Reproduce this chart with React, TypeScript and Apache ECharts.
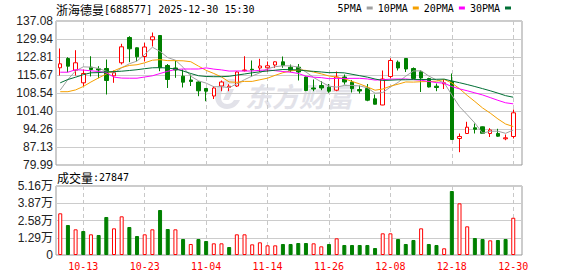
import React, { useEffect, useRef } from 'react';
import * as echarts from 'echarts';

// ---------- data ----------
const stockName = '浙海德曼';
const stockCode = '[688577]';
const quoteTime = '2025-12-30 15:30';
const volumeLabel = '成交量';
const lastVolume = 27847;

const dates = [
  '09-30', '10-09', '10-10', '10-13', '10-14', '10-15', '10-16', '10-17', '10-20', '10-21',
  '10-22', '10-23', '10-24', '10-27', '10-28', '10-29', '10-30', '10-31', '11-03', '11-04',
  '11-05', '11-06', '11-07', '11-10', '11-11', '11-12', '11-13', '11-14', '11-17', '11-18',
  '11-19', '11-20', '11-21', '11-24', '11-25', '11-26', '11-27', '11-28', '12-01', '12-02',
  '12-03', '12-04', '12-05', '12-08', '12-09', '12-10', '12-11', '12-12', '12-15', '12-16',
  '12-17', '12-18', '12-19', '12-22', '12-23', '12-24', '12-25', '12-26', '12-29', '12-30',
];

const opens = [
  118.53, 122.21, 117.57, 112.58, 118.76, 118.13, 118.25, 115.35, 120.51, 130.54,
  126.46, 123.0, 129.63, 131.33, 119.44, 118.45, 115.2, 113.69, 112.9, 110.32,
  107.35, 111.31, 110.72, 111.31, 117.4, 117.95, 118.45, 118.53, 119.64, 120.9,
  118.76, 118.76, 114.88, 110.52, 111.51, 110.84, 109.65, 114.88, 112.82, 109.92,
  110.32, 106.24, 103.78, 115.08, 120.75, 122.21, 118.25, 116.94, 114.28, 111.23,
  112.18, 113.21, 90.5, 92.48, 94.74, 95.13, 92.48, 92.48, 90.38, 91.29,
];
const closes = [
  120.11, 119.16, 120.51, 116.27, 117.85, 117.65, 113.49, 116.66, 126.85, 126.06,
  122.89, 126.77, 130.82, 118.53, 113.89, 117.65, 112.82, 113.09, 109.41, 109.25,
  110.52, 112.9, 111.23, 116.86, 117.65, 117.7, 119.24, 119.32, 120.9, 119.44,
  117.57, 116.86, 109.53, 110.12, 110.52, 109.25, 114.88, 112.9, 110.24, 109.33,
  105.68, 104.09, 114.09, 121.42, 118.45, 118.05, 114.3, 114.5, 110.92, 110.72,
  112.58, 90.1, 91.3, 94.98, 94.14, 92.56, 93.87, 91.41, 90.77, 100.68,
];
const lows = [
  115.47, 116.78, 115.47, 111.23, 115.08, 114.4, 107.94, 112.58, 119.83, 120.75,
  121.14, 121.02, 126.97, 117.18, 110.52, 114.56, 110.72, 111.31, 107.27, 105.28,
  106.16, 109.25, 109.25, 110.92, 117.06, 115.08, 116.86, 117.06, 118.45, 118.53,
  116.78, 113.49, 109.25, 109.25, 109.65, 108.61, 109.25, 111.91, 108.73, 108.34,
  105.28, 103.97, 103.7, 114.4, 117.46, 116.86, 114.1, 108.93, 110.72, 109.25,
  110.12, 90.1, 85.06, 92.36, 92.48, 92.36, 91.09, 91.17, 89.82, 90.5,
];
const highs = [
  126.18, 122.73, 125.5, 117.85, 123.12, 119.16, 121.81, 117.46, 128.04, 131.05,
  126.6, 128.44, 132.52, 131.45, 120.03, 121.42, 117.85, 115.87, 113.21, 110.52,
  111.23, 113.49, 112.02, 117.18, 123.12, 121.42, 122.09, 121.02, 121.1, 123.0,
  119.83, 120.03, 115.08, 113.89, 113.21, 112.1, 117.06, 115.87, 113.69, 111.51,
  112.1, 107.94, 117.46, 122.33, 121.42, 122.33, 118.68, 117.57, 114.56, 112.3,
  113.89, 116.27, 92.48, 97.12, 96.44, 95.25, 94.58, 94.34, 92.08, 101.99,
];
const volumes = [
  31180, 22430, 19200, 17950, 15460, 14960, 28420, 19940, 28920, 20940,
  14210, 15460, 19200, 33650, 19440, 19200, 11970, 8230, 11970, 10470,
  8730, 8730, 5980, 15460, 15460, 7980, 9480, 7230, 7230, 8230,
  8230, 8970, 8970, 8730, 6480, 8230, 12470, 7480, 7480, 7480,
  7480, 5230, 16210, 16210, 11970, 8230, 11220, 19940, 8230, 7480,
  5010, 47860, 38640, 21440, 12710, 11970, 10970, 11220, 11970, 27847,
];

// moving-average values before enough visible closes exist
const ma5Head = [109.7, 113.9, 117.3, 118.9];
const ma10Head = [109.05, 109.05, 109.76, 111.11, 112.9, 114.52, 116.07, 117.34, 118.64];
const ma20Head = [
  116.78, 116.78, 117.77, 117.61, 117.34, 117.06, 116.58, 114.84, 114.44, 114.4,
  114.4, 114.88, 115.35, 116.27, 117.14, 117.85, 118.05, 118.05, 118.05,
];
const ma30Head = [
  112.58, 113.89, 114.8, 115.79, 116.54, 116.62, 116.94, 117.02, 117.18, 117.46,
  117.77, 118.17, 118.53, 118.6, 118.41, 118.05, 117.26, 116.27, 115.39, 115.08,
  115.0, 115.0, 115.16, 115.63, 116.07, 116.54, 116.94, 117.26, 117.57,
];

const priceTicks = ['79.99', '87.13', '94.26', '101.40', '108.54', '115.67', '122.81', '129.94', '137.08'];
const volTicks = ['0', '1.29万', '2.58万', '3.87万', '5.16万'];
const priceMin = 79.99;
const priceMax = 137.08;
const volMax = 51600;

const maNames = ['5PMA', '10PMA', '20PMA', '30PMA'];
const maPeriods = [5, 10, 20, 30];
const maHeads = [ma5Head, ma10Head, ma20Head, ma30Head];
const maColors = ['#a0a0a0', '#f5a000', '#ff00ff', '#006f35'];

// ---------- helpers ----------
function movingAverage(n: number, head: number[]): number[] {
  return closes.map((_, i) => {
    if (i < n - 1) return head[i];
    let s = 0;
    for (let k = i - n + 1; k <= i; k++) s += closes[k];
    return +(s / n).toFixed(3);
  });
}

const labelEvery = (i: number) => i >= 3 && (i - 3) % 8 === 0;

const UP = '#ff0000';
const DOWN = '#008000';
const MONO = 'DejaVu Sans Mono';
const CJK = 'Noto Sans CJK SC';

echarts.graphic.registerShape(
  'emLogo',
  echarts.graphic.extendPath(
    'M17 0 C8 0 1 8 1 17 C1 25 6 30 13 30 C19 30 24 26 26 21 L20 21 C18 24 16 25 13 25 C9 25 7 22 7 18 C7 11 11 5 17 5 C20 5 22 6 23 8 L28 4 C26 1 22 0 17 0 Z M14 10 L20 10 L15 21 L9 21 Z',
    {}
  )
);

export default function App() {
  const ref = useRef<HTMLDivElement>(null);

  useEffect(() => {
    if (!ref.current) return;
    const chart = echarts.init(ref.current, undefined, { renderer: 'svg' });

    const candleData = opens.map((o, i) => [o, closes[i], lows[i], highs[i]]);
    const volData = volumes.map((v, i) => {
      const up = i === 0 ? closes[0] >= opens[0] : closes[i] >= closes[i - 1];
      return {
        value: v,
        itemStyle: up
          ? { color: '#ffffff', borderColor: UP, borderWidth: 1 }
          : { color: DOWN, borderColor: DOWN, borderWidth: 1 },
      };
    });

    const frameYAxis = (gridIndex: number, max: number, labels: string[]) => ({
      type: 'value',
      gridIndex,
      min: 0,
      max,
      interval: 1,
      axisLine: { show: false },
      axisTick: { show: false },
      axisLabel: {
        formatter: (v: number) => labels[Math.round(v)] ?? '',
        fontFamily: 'Liberation Sans, Arial, ' + CJK,
        fontSize: 12,
        color: '#222',
        margin: 3,
      },
      splitLine: { show: true, lineStyle: { color: '#cccccc', width: 1 } },
    });

    const dataXAxis = (gridIndex: number, showLabels: boolean) => ({
      type: 'category',
      gridIndex,
      data: dates,
      boundaryGap: true,
      axisLine: { show: false },
      axisTick: { show: false, alignWithLabel: true, interval: labelEvery },
      axisLabel: {
        show: showLabels,
        interval: labelEvery,
        color: UP,
        fontFamily: MONO,
        fontSize: 10,
        margin: 6,
      },
      splitLine: {
        show: true,
        interval: labelEvery,
        alignWithLabel: true,
        lineStyle: { color: '#c8c8c8', width: 1, type: [4, 3] },
      },
    });

    const option: any = {
      animation: false,
      backgroundColor: '#ffffff',
      legend: {
        data: maNames,
        right: 67,
        top: 3,
        padding: 0,
        itemWidth: 6,
        itemHeight: 3,
        itemGap: 5,
        align: 'right',
        icon: 'rect',
        selectedMode: false,
        lineStyle: { width: 3 },
        textStyle: { fontFamily: MONO, fontSize: 10, color: '#000' },
      },
      grid: [
        { left: 56, top: 21, width: 466, height: 144, show: true, borderColor: '#999', borderWidth: 1, backgroundColor: 'transparent', outerBoundsMode: 'none', containLabel: false },
        { left: 56.4, top: 21, width: 460.7, height: 144, outerBoundsMode: 'none', containLabel: false },
        { left: 56, top: 186, width: 466, height: 69, show: true, borderColor: '#999', borderWidth: 1, backgroundColor: 'transparent', outerBoundsMode: 'none', containLabel: false },
        { left: 56.4, top: 186, width: 460.7, height: 69, outerBoundsMode: 'none', containLabel: false },
      ],
      xAxis: [
        { type: 'value', gridIndex: 0, min: 0, max: 1, show: false },
        dataXAxis(1, false),
        { type: 'value', gridIndex: 2, min: 0, max: 1, show: false },
        dataXAxis(3, true),
      ],
      yAxis: [
        frameYAxis(0, 8, priceTicks),
        { type: 'value', gridIndex: 1, min: priceMin, max: priceMax, show: false, splitLine: { show: false } },
        frameYAxis(2, 4, volTicks),
        { type: 'value', gridIndex: 3, min: 0, max: volMax, show: false, splitLine: { show: false } },
      ],
      graphic: [
        {
          type: 'emLogo',
          x: 214,
          y: 79,
          z: 0,
          silent: true,
          style: { fill: '#e2e2e9' },
        },
        {
          type: 'text',
          x: 245,
          y: 95,
          z: 0,
          silent: true,
          style: {
            text: '东方财富',
            fontFamily: CJK,
            fontSize: 27,
            fontWeight: 'bold',
            fontStyle: 'italic',
            fill: '#e2e2e9',
            verticalAlign: 'middle',
          },
        },
        {
          type: 'text',
          x: 56,
          y: 9,
          z: 10,
          style: {
            text: `{c|${stockName}}{m|${stockCode} ${quoteTime}}`,
            verticalAlign: 'middle',
            rich: {
              c: { fontFamily: CJK, fontSize: 12, fill: '#000' },
              m: { fontFamily: MONO, fontSize: 10, fill: '#000' },
            },
          },
        },
        {
          type: 'text',
          x: 57,
          y: 177.5,
          z: 10,
          style: {
            text: `{c|${volumeLabel}}{m|:${lastVolume}}`,
            verticalAlign: 'middle',
            rich: {
              c: { fontFamily: CJK, fontSize: 12, fill: '#000' },
              m: { fontFamily: MONO, fontSize: 10, fill: '#000' },
            },
          },
        },
      ],
      series: [
        {
          type: 'candlestick',
          name: 'K',
          xAxisIndex: 1,
          yAxisIndex: 1,
          data: candleData,
          barWidth: 4,
          silent: true,
          itemStyle: {
            color: '#ffffff',
            color0: DOWN,
            borderColor: UP,
            borderColor0: DOWN,
            borderWidth: 1,
          },
        },
        ...maNames.map((name, k) => ({
          type: 'line',
          name,
          xAxisIndex: 1,
          yAxisIndex: 1,
          data: movingAverage(maPeriods[k], maHeads[k]),
          symbol: 'none',
          showSymbol: false,
          silent: true,
          color: maColors[k],
          itemStyle: { color: maColors[k] },
          lineStyle: { color: maColors[k], width: 1 },
          z: 3,
        })),
        {
          type: 'bar',
          name: 'VOL',
          xAxisIndex: 3,
          yAxisIndex: 3,
          data: volData,
          barWidth: 4,
          silent: true,
        },
      ],
    };

    chart.setOption(option);
    return () => chart.dispose();
  }, []);

  return (
    <div
      ref={ref}
      style={{ position: 'fixed', left: 0, top: 0, width: 578, height: 276, background: '#fff' }}
    />
  );
}
